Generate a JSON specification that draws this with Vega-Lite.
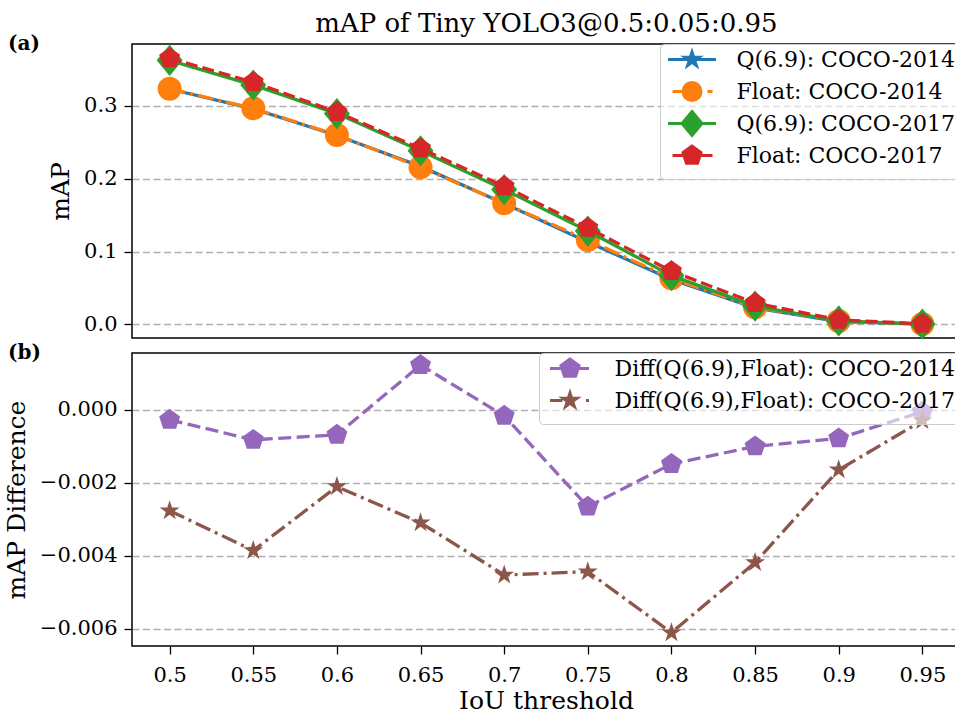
{
  "$schema": "https://vega.github.io/schema/vega-lite/v6.json",
  "background": "white",
  "padding": {"left": 3, "top": 11, "right": 0, "bottom": 0},
  "title": {"text": "mAP of Tiny YOLO3@0.5:0.05:0.95", "anchor": "middle", "dx": 64, "offset": 2, "dy": 27.7, "baseline": "alphabetic", "fontSize": 26, "fontWeight": "normal", "font": "DejaVu Serif", "color": "black"},
  "datasets": {
    "top": [
      {"iou": 0.5, "series": "Q(6.9): COCO-2014", "map": 0.3232},
      {"iou": 0.55, "series": "Q(6.9): COCO-2014", "map": 0.2959},
      {"iou": 0.6, "series": "Q(6.9): COCO-2014", "map": 0.2593},
      {"iou": 0.65, "series": "Q(6.9): COCO-2014", "map": 0.2169},
      {"iou": 0.7, "series": "Q(6.9): COCO-2014", "map": 0.1660},
      {"iou": 0.75, "series": "Q(6.9): COCO-2014", "map": 0.1131},
      {"iou": 0.8, "series": "Q(6.9): COCO-2014", "map": 0.0617},
      {"iou": 0.85, "series": "Q(6.9): COCO-2014", "map": 0.0225},
      {"iou": 0.9, "series": "Q(6.9): COCO-2014", "map": 0.0037},
      {"iou": 0.95, "series": "Q(6.9): COCO-2014", "map": 0.0003},
      {"iou": 0.5, "series": "Float: COCO-2014", "map": 0.3235},
      {"iou": 0.55, "series": "Float: COCO-2014", "map": 0.2967},
      {"iou": 0.6, "series": "Float: COCO-2014", "map": 0.2600},
      {"iou": 0.65, "series": "Float: COCO-2014", "map": 0.2157},
      {"iou": 0.7, "series": "Float: COCO-2014", "map": 0.1662},
      {"iou": 0.75, "series": "Float: COCO-2014", "map": 0.1158},
      {"iou": 0.8, "series": "Float: COCO-2014", "map": 0.0632},
      {"iou": 0.85, "series": "Float: COCO-2014", "map": 0.0235},
      {"iou": 0.9, "series": "Float: COCO-2014", "map": 0.0045},
      {"iou": 0.95, "series": "Float: COCO-2014", "map": 0.0004},
      {"iou": 0.5, "series": "Q(6.9): COCO-2017", "map": 0.3626},
      {"iou": 0.55, "series": "Q(6.9): COCO-2017", "map": 0.3286},
      {"iou": 0.6, "series": "Q(6.9): COCO-2017", "map": 0.2894},
      {"iou": 0.65, "series": "Q(6.9): COCO-2017", "map": 0.2384},
      {"iou": 0.7, "series": "Q(6.9): COCO-2017", "map": 0.1850},
      {"iou": 0.75, "series": "Q(6.9): COCO-2017", "map": 0.1281},
      {"iou": 0.8, "series": "Q(6.9): COCO-2017", "map": 0.0669},
      {"iou": 0.85, "series": "Q(6.9): COCO-2017", "map": 0.0250},
      {"iou": 0.9, "series": "Q(6.9): COCO-2017", "map": 0.0046},
      {"iou": 0.95, "series": "Q(6.9): COCO-2017", "map": 0.0003},
      {"iou": 0.5, "series": "Float: COCO-2017", "map": 0.3654},
      {"iou": 0.55, "series": "Float: COCO-2017", "map": 0.3325},
      {"iou": 0.6, "series": "Float: COCO-2017", "map": 0.2915},
      {"iou": 0.65, "series": "Float: COCO-2017", "map": 0.2415},
      {"iou": 0.7, "series": "Float: COCO-2017", "map": 0.1895},
      {"iou": 0.75, "series": "Float: COCO-2017", "map": 0.1325},
      {"iou": 0.8, "series": "Float: COCO-2017", "map": 0.0730},
      {"iou": 0.85, "series": "Float: COCO-2017", "map": 0.0292},
      {"iou": 0.9, "series": "Float: COCO-2017", "map": 0.0062},
      {"iou": 0.95, "series": "Float: COCO-2017", "map": 0.0006}
    ],
    "bottom": [
      {"iou": 0.5, "series": "Diff(Q(6.9),Float): COCO-2014", "diff": -0.00027},
      {"iou": 0.55, "series": "Diff(Q(6.9),Float): COCO-2014", "diff": -0.00082},
      {"iou": 0.6, "series": "Diff(Q(6.9),Float): COCO-2014", "diff": -0.00068},
      {"iou": 0.65, "series": "Diff(Q(6.9),Float): COCO-2014", "diff": 0.00123},
      {"iou": 0.7, "series": "Diff(Q(6.9),Float): COCO-2014", "diff": -0.00016},
      {"iou": 0.75, "series": "Diff(Q(6.9),Float): COCO-2014", "diff": -0.00265},
      {"iou": 0.8, "series": "Diff(Q(6.9),Float): COCO-2014", "diff": -0.00148},
      {"iou": 0.85, "series": "Diff(Q(6.9),Float): COCO-2014", "diff": -0.00100},
      {"iou": 0.9, "series": "Diff(Q(6.9),Float): COCO-2014", "diff": -0.00078},
      {"iou": 0.95, "series": "Diff(Q(6.9),Float): COCO-2014", "diff": -0.00005},
      {"iou": 0.5, "series": "Diff(Q(6.9),Float): COCO-2017", "diff": -0.00276},
      {"iou": 0.55, "series": "Diff(Q(6.9),Float): COCO-2017", "diff": -0.00385},
      {"iou": 0.6, "series": "Diff(Q(6.9),Float): COCO-2017", "diff": -0.00210},
      {"iou": 0.65, "series": "Diff(Q(6.9),Float): COCO-2017", "diff": -0.00309},
      {"iou": 0.7, "series": "Diff(Q(6.9),Float): COCO-2017", "diff": -0.00452},
      {"iou": 0.75, "series": "Diff(Q(6.9),Float): COCO-2017", "diff": -0.00443},
      {"iou": 0.8, "series": "Diff(Q(6.9),Float): COCO-2017", "diff": -0.00610},
      {"iou": 0.85, "series": "Diff(Q(6.9),Float): COCO-2017", "diff": -0.00418},
      {"iou": 0.9, "series": "Diff(Q(6.9),Float): COCO-2017", "diff": -0.00164},
      {"iou": 0.95, "series": "Diff(Q(6.9),Float): COCO-2017", "diff": -0.00029}
    ]
  },
  "spacing": 15,
  "bounds": "flush",
  "resolve": {"scale": {"color": "independent", "fill": "independent", "stroke": "independent", "shape": "independent", "x": "independent", "y": "independent"}, "legend": {"color": "independent", "fill": "independent", "stroke": "independent", "shape": "independent"}},
  "vconcat": [
    {
      "width": 828,
      "height": 294,
      "title": {"text": "(a)", "frame": "group", "anchor": "start", "dx": -124, "offset": 0, "dy": 26, "baseline": "alphabetic", "fontSize": 20, "fontWeight": "bold", "font": "DejaVu Serif", "color": "black"},
      "data": {"name": "top"},
      "encoding": {
        "x": {"field": "iou", "type": "quantitative", "scale": {"domain": [0.4775, 0.9725], "nice": false, "zero": false}, "axis": null},
        "y": {"field": "map", "type": "quantitative", "scale": {"domain": [-0.0188, 0.385], "nice": false, "zero": false}, "axis": {"title": "mAP", "values": [0, 0.1, 0.2, 0.3], "format": ".1f", "grid": true, "labelPadding": 7, "titlePadding": 10}}
      },
      "layer": [
        {"transform": [{"filter": "datum.series === 'Q(6.9): COCO-2014'"}], "mark": {"type": "line", "color": "#1f77b4", "strokeWidth": 3.3}},
        {"transform": [{"filter": "datum.series === 'Q(6.9): COCO-2014'"}], "mark": {"type": "point", "filled": true, "color": "#1f77b4", "opacity": 1, "size": 441, "shape": "M0,-1L-0.2245,-0.309L-0.9511,-0.309L-0.3633,0.118L-0.5878,0.809L0,0.382L0.5878,0.809L0.3633,0.118L0.9511,-0.309L0.2245,-0.309Z"}},
        {"transform": [{"filter": "datum.series === 'Float: COCO-2014'"}], "mark": {"type": "line", "color": "#ff7f0e", "strokeWidth": 3.3, "strokeDash": [16, 5, 3, 5]}},
        {"transform": [{"filter": "datum.series === 'Float: COCO-2014'"}], "mark": {"type": "point", "filled": true, "color": "#ff7f0e", "opacity": 1, "size": 576, "shape": "circle"}},
        {"transform": [{"filter": "datum.series === 'Q(6.9): COCO-2017'"}], "mark": {"type": "line", "color": "#2ca02c", "strokeWidth": 3.3}},
        {"transform": [{"filter": "datum.series === 'Q(6.9): COCO-2017'"}], "mark": {"type": "point", "filled": true, "color": "#2ca02c", "opacity": 1, "size": 676, "shape": "M0,-1.2L1,0L0,1.2L-1,0Z"}},
        {"transform": [{"filter": "datum.series === 'Float: COCO-2017'"}], "mark": {"type": "line", "color": "#d62728", "strokeWidth": 3.3, "strokeDash": [12, 5]}},
        {"transform": [{"filter": "datum.series === 'Float: COCO-2017'"}], "mark": {"type": "point", "filled": true, "color": "#d62728", "opacity": 1, "size": 484, "shape": "M0,-1L-0.9511,-0.309L-0.5878,0.809L0.5878,0.809L0.9511,-0.309Z"}},
        {"mark": {"type": "point", "size": 0, "opacity": 1},
          "encoding": {
            "fill": {"field": "series", "type": "nominal",
              "scale": {"domain": ["Q(6.9): COCO-2014", "Float: COCO-2014", "Q(6.9): COCO-2017", "Float: COCO-2017"], "range": ["#1f77b4", "#ff7f0e", "#2ca02c", "#d62728"]},
              "legend": {"title": null, "orient": "top-right", "offset": 0, "labelFontSize": 22, "labelFont": "DejaVu Serif", "labelColor": "black", "labelLimit": 500, "symbolSize": 400, "symbolStrokeWidth": 3, "symbolOpacity": 1, "symbolOffset": 16.5, "labelOffset": 33, "rowPadding": -7, "padding": 4, "strokeColor": "#cccccc", "fillColor": "rgba(255,255,255,0.6)", "cornerRadius": 4}},
            "stroke": {"field": "series", "type": "nominal",
              "scale": {"domain": ["Q(6.9): COCO-2014", "Float: COCO-2014", "Q(6.9): COCO-2017", "Float: COCO-2017"], "range": ["#1f77b4", "#ff7f0e", "#2ca02c", "#d62728"]}},
            "shape": {"field": "series", "type": "nominal",
              "scale": {"domain": ["Q(6.9): COCO-2014", "Float: COCO-2014", "Q(6.9): COCO-2017", "Float: COCO-2017"],
                "range": [
                  "M0,-1.3L0,-1.3M0,1.3L0,1.3M-2.4,0H2.4M0,-0.75L-0.1684,-0.2318L-0.7133,-0.2318L-0.2725,0.0885L-0.4408,0.6068L0,0.2865L0.4408,0.6068L0.2725,0.0885L0.7133,-0.2318L0.1684,-0.2318Z",
                  "M0,-1.3L0,-1.3M0,1.3L0,1.3M-1.95,0H-0.9M1.55,0H2.05M-0.9,0A0.9,0.9 0 1,1 0.9,0A0.9,0.9 0 1,1 -0.9,0Z",
                  "M0,-1.3L0,-1.3M0,1.3L0,1.3M-2.4,0H2.4M0,-1.2L1,0L0,1.2L-1,0Z",
                  "M0,-1.3L0,-1.3M0,1.3L0,1.3M-1.95,0H-0.95M0.95,0H2.05M0,-0.95L-0.9035,-0.2936L-0.5584,0.7686L0.5584,0.7686L0.9035,-0.2936Z"
                ]}}
          }}
      ]
    },
    {
      "width": 828,
      "height": 293,
      "title": {"text": "(b)", "frame": "group", "anchor": "start", "dx": -124, "offset": 0, "dy": 26, "baseline": "alphabetic", "fontSize": 20, "fontWeight": "bold", "font": "DejaVu Serif", "color": "black"},
      "data": {"name": "bottom"},
      "encoding": {
        "x": {"field": "iou", "type": "quantitative", "scale": {"domain": [0.4775, 0.9725], "nice": false, "zero": false}, "axis": {"title": "IoU threshold", "values": [0.5, 0.55, 0.6, 0.65, 0.7, 0.75, 0.8, 0.85, 0.9, 0.95], "format": "~g", "grid": false, "labelFlush": false, "labelPadding": 10, "titlePadding": 3}},
        "y": {"field": "diff", "type": "quantitative", "scale": {"domain": [-0.006466, 0.00156], "nice": false, "zero": false}, "axis": {"title": "mAP Difference", "values": [0, -0.002, -0.004, -0.006], "format": ".3f", "grid": true, "labelPadding": 7, "titlePadding": 10}}
      },
      "layer": [
        {"transform": [{"filter": "datum.series === 'Diff(Q(6.9),Float): COCO-2014'"}], "mark": {"type": "line", "color": "#9467bd", "strokeWidth": 3.3, "strokeDash": [13, 5.5]}},
        {"transform": [{"filter": "datum.series === 'Diff(Q(6.9),Float): COCO-2014'"}], "mark": {"type": "point", "filled": true, "color": "#9467bd", "opacity": 1, "size": 484, "shape": "M0,-1L-0.9511,-0.309L-0.5878,0.809L0.5878,0.809L0.9511,-0.309Z"}},
        {"transform": [{"filter": "datum.series === 'Diff(Q(6.9),Float): COCO-2017'"}], "mark": {"type": "line", "color": "#8c564b", "strokeWidth": 3.3, "strokeDash": [16, 5, 3, 5]}},
        {"transform": [{"filter": "datum.series === 'Diff(Q(6.9),Float): COCO-2017'"}], "mark": {"type": "point", "filled": true, "color": "#8c564b", "opacity": 1, "size": 441, "shape": "M0,-1L-0.2245,-0.309L-0.9511,-0.309L-0.3633,0.118L-0.5878,0.809L0,0.382L0.5878,0.809L0.3633,0.118L0.9511,-0.309L0.2245,-0.309Z"}},
        {"mark": {"type": "point", "size": 0, "opacity": 1},
          "encoding": {
            "fill": {"field": "series", "type": "nominal",
              "scale": {"domain": ["Diff(Q(6.9),Float): COCO-2014", "Diff(Q(6.9),Float): COCO-2017"], "range": ["#9467bd", "#8c564b"]},
              "legend": {"title": null, "orient": "top-right", "offset": 0, "labelFontSize": 22, "labelFont": "DejaVu Serif", "labelColor": "black", "labelLimit": 600, "symbolSize": 400, "symbolStrokeWidth": 3, "symbolOpacity": 1, "symbolOffset": 15.5, "labelOffset": 33, "rowPadding": -7, "padding": 4, "strokeColor": "#cccccc", "fillColor": "rgba(255,255,255,0.6)", "cornerRadius": 4}},
            "stroke": {"field": "series", "type": "nominal",
              "scale": {"domain": ["Diff(Q(6.9),Float): COCO-2014", "Diff(Q(6.9),Float): COCO-2017"], "range": ["#9467bd", "#8c564b"]}},
            "shape": {"field": "series", "type": "nominal",
              "scale": {"domain": ["Diff(Q(6.9),Float): COCO-2014", "Diff(Q(6.9),Float): COCO-2017"],
                "range": [
                  "M0,-1.3L0,-1.3M0,1.3L0,1.3M-2,0H-0.9M0.9,0H1.9M0,-0.95L-0.9035,-0.2936L-0.5584,0.7686L0.5584,0.7686L0.9035,-0.2936Z",
                  "M0,-1.3L0,-1.3M0,1.3L0,1.3M-2,0H-0.75M1.6,0H1.9M0,-0.75L-0.1684,-0.2318L-0.7133,-0.2318L-0.2725,0.0885L-0.4408,0.6068L0,0.2865L0.4408,0.6068L0.2725,0.0885L0.7133,-0.2318L0.1684,-0.2318Z"
                ]}}
          }}
      ]
    }
  ],
  "config": {
    "font": "DejaVu Serif",
    "view": {"stroke": "black", "strokeWidth": 1.5},
    "axis": {"labelFont": "DejaVu Serif", "titleFont": "DejaVu Serif", "labelFontSize": 21, "titleFontSize": 25, "titleFontWeight": "normal", "labelColor": "black", "titleColor": "black", "tickColor": "black", "tickWidth": 1.3, "tickSize": 8, "domain": false, "gridColor": "#b0b0b0", "gridDash": [7, 3.5], "gridWidth": 1.3}
  }
}
